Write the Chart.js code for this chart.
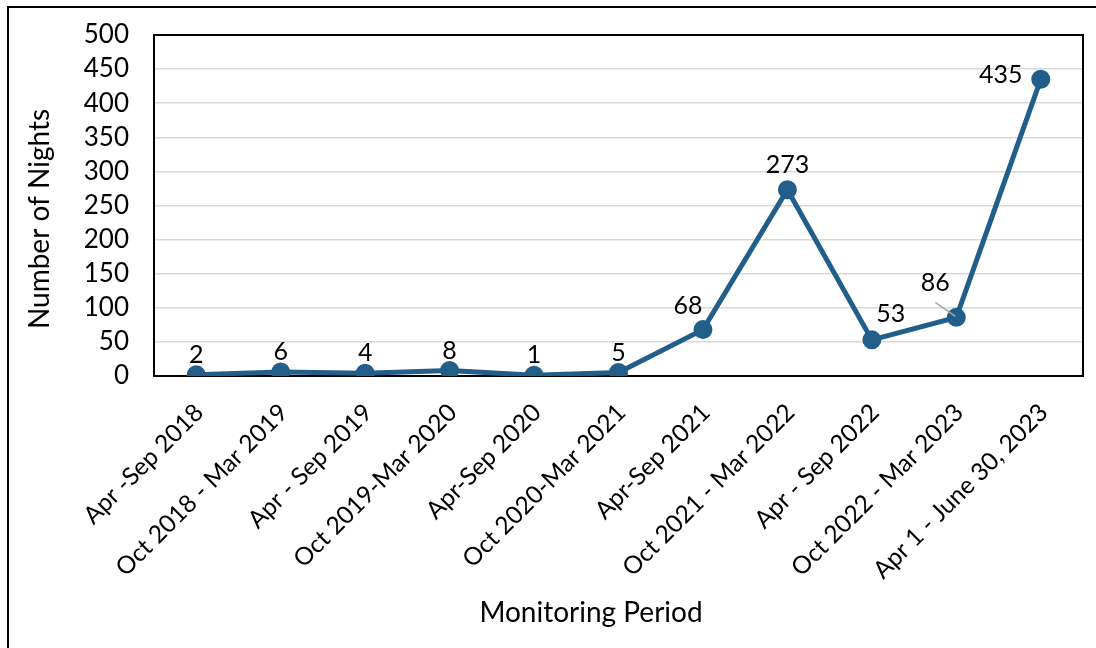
<!DOCTYPE html>
<html>
<head>
<meta charset="utf-8">
<script src="https://cdn.jsdelivr.net/npm/chart.js@4"></script>
<style>
  html, body { margin: 0; padding: 0; background: #fff; }
  #wrap { width: 1096px; height: 648px; position: relative; }
</style>
</head>
<body>
<div id="wrap"><canvas id="nightsChart"></canvas></div>
<script>
// Data
const periods = [
    'Apr -Sep 2018', 'Oct 2018 - Mar 2019', 'Apr - Sep 2019', 'Oct 2019-Mar 2020',
    'Apr-Sep 2020', 'Oct 2020-Mar 2021', 'Apr-Sep 2021', 'Oct 2021 - Mar 2022',
    'Apr - Sep 2022', 'Oct 2022 - Mar 2023', 'Apr 1 - June 30, 2023'
];
const nights = [2, 6, 4, 8, 1, 5, 68, 273, 53, 86, 435];
const yTicks = [0, 50, 100, 150, 200, 250, 300, 350, 400, 450, 500];

// where each value label sits relative to its point (dx, dy)
const labelOffsets = [
    [0, -20], [0, -20], [0, -20], [0, -20], [0, -20], [0, -20],
    [-15, -24], [0, -25], [19, -26], [-21, -34], [-40, -4]
];

const lineColor = '#215e89';
const fontFamily = 'Lato, "Open Sans", sans-serif';

const framePlugin = {
    id: 'frame',
    beforeDatasetsDraw(chart) {
        const { ctx, chartArea: a } = chart;
        ctx.save();
        ctx.strokeStyle = '#000';
        ctx.lineWidth = 2;
        ctx.strokeRect(a.left, a.top, a.right - a.left, a.bottom - a.top);
        // outer chart border
        ctx.strokeRect(8, 7, 1200, 800);
        ctx.restore();
    },
    afterDatasetsDraw(chart) {
        const { ctx } = chart;
        const meta = chart.getDatasetMeta(0);
        ctx.save();
        ctx.font = '25px ' + fontFamily;
        ctx.fillStyle = '#000';
        ctx.textAlign = 'center';
        ctx.textBaseline = 'middle';
        meta.data.forEach((pt, i) => {
            const [dx, dy] = labelOffsets[i];
            ctx.fillText(String(nights[i]), pt.x + dx, pt.y + dy);
        });
        // leader line for the 86 label
        const p = meta.data[9];
        ctx.strokeStyle = '#a6a6a6';
        ctx.lineWidth = 1.5;
        ctx.beginPath();
        ctx.moveTo(p.x - 21, p.y - 15);
        ctx.lineTo(p.x - 1, p.y - 1);
        ctx.stroke();

        // axis titles
        ctx.font = '28px ' + fontFamily;
        ctx.fillText('Monitoring Period', 591, 613);
        ctx.translate(40, 219);
        ctx.rotate(-Math.PI / 2);
        ctx.fillText('Number of Nights', 0, 0);
        ctx.restore();
    }
};

new Chart(document.getElementById('nightsChart'), {
    type: 'line',
    data: {
        labels: periods,
        datasets: [{
            data: nights,
            borderColor: lineColor,
            backgroundColor: lineColor,
            borderWidth: 5,
            pointRadius: 7,
            pointHoverRadius: 7,
            pointBackgroundColor: lineColor,
            pointBorderColor: lineColor,
            tension: 0,
            fill: false
        }]
    },
    options: {
        responsive: true,
        maintainAspectRatio: false,
        animation: false,
        layout: { padding: { top: 35, right: 13, left: 0, bottom: 0 } },
        plugins: {
            legend: { display: false },
            tooltip: { enabled: false }
        },
        scales: {
            x: {
                offset: true,
                grid: { display: false, drawTicks: false },
                border: { display: false },
                afterFit: (scale) => { scale.height = 648 - 376; },
                ticks: {
                    autoSkip: false,
                    minRotation: 45,
                    maxRotation: 45,
                    padding: 22,
                    labelOffset: 3,
                    color: '#000',
                    font: { family: fontFamily, size: 24.5 }
                }
            },
            y: {
                min: 0,
                max: 500,
                afterFit: (scale) => {
                    scale.width = 154;
                    scale.paddingTop = 0;
                    scale.paddingBottom = 0;
                },
                afterBuildTicks: (scale) => { scale.ticks = yTicks.map(v => ({ value: v })); },
                grid: { color: '#d9d9d9', lineWidth: 1.5, drawTicks: false },
                border: { display: false },
                ticks: {
                    autoSkip: false,
                    padding: 25,
                    color: '#000',
                    font: { family: fontFamily, size: 26 }
                }
            }
        }
    },
    plugins: [framePlugin]
});
</script>
</body>
</html>
